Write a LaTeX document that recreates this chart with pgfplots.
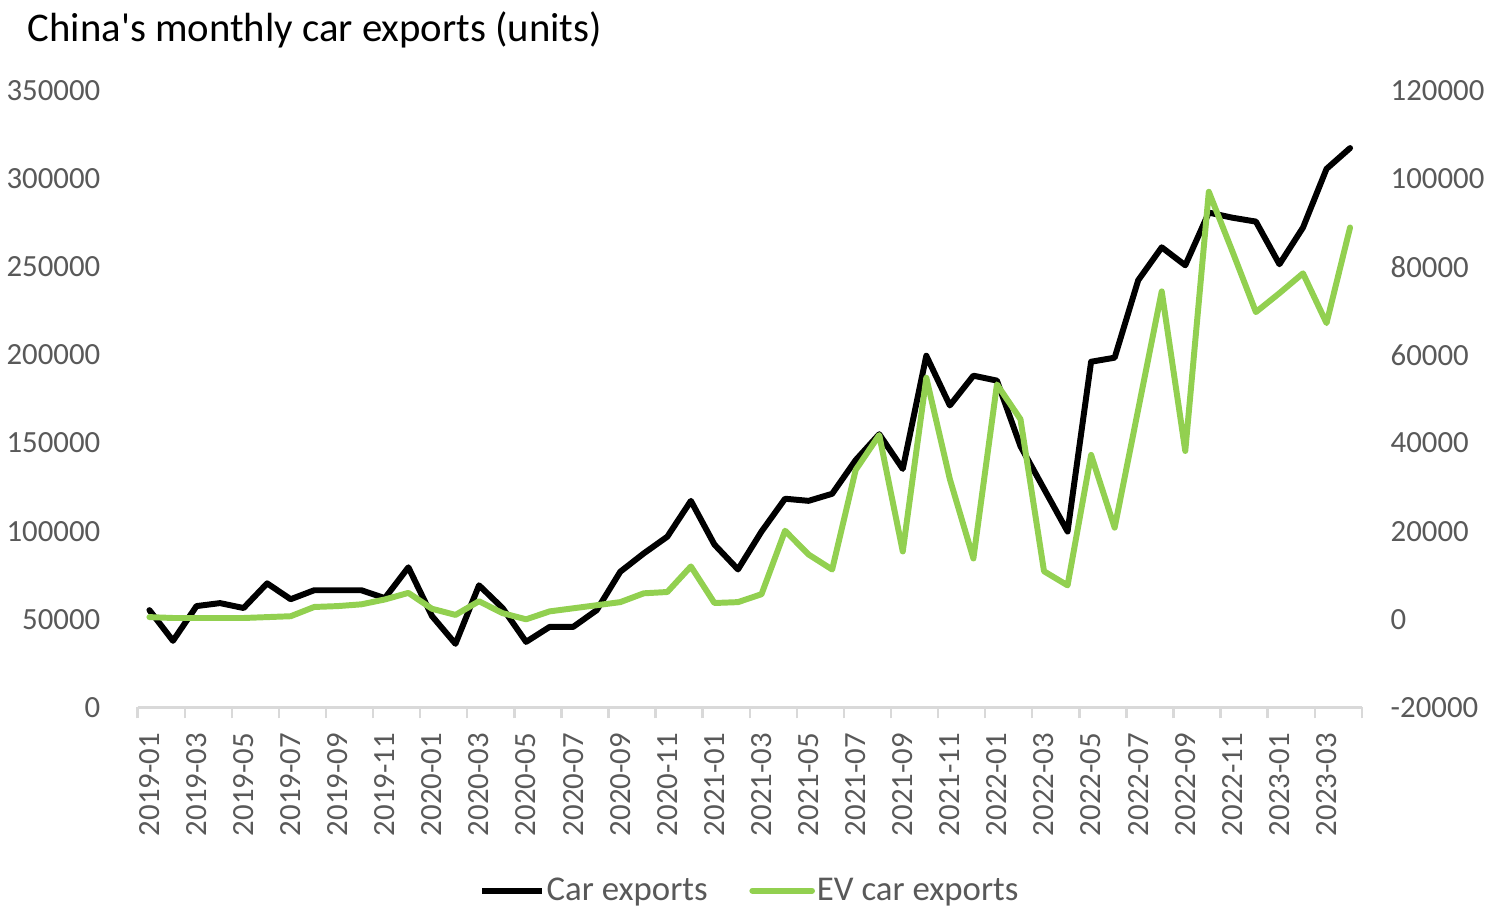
\documentclass[border=0pt]{standalone}
\usepackage{fontspec}
\setmainfont{Carlito}
\usepackage{pgfplots}
\pgfplotsset{compat=1.18}
\definecolor{evgreen}{HTML}{92D050}
\definecolor{ticktext}{HTML}{595959}
\definecolor{axisgray}{HTML}{D9D9D9}

\pgfplotstableread{
i car ev
0 55200 500
1 37800 300
2 57500 300
3 59200 300
4 56400 300
5 70400 500
6 61400 700
7 66500 2800
8 66500 3000
9 66500 3400
10 62000 4500
11 79500 6000
12 51900 2400
13 36100 1000
14 69300 4100
15 56400 1400
16 37200 0
17 45700 1800
18 45700 2500
19 55200 3200
20 77000 3900
21 87400 5900
22 96900 6200
23 117200 12000
24 92400 3700
25 78300 3900
26 99800 5700
27 118400 20100
28 117200 14700
29 121200 11300
30 140300 33900
31 155000 41800
32 135300 15400
33 199500 54800
34 171300 31800
35 188200 13800
36 185400 53300
37 148200 45400
38 124000 10900
39 99800 7700
40 196100 37300
41 198400 20800
42 242300 47600
43 261000 74400
44 250800 38200
45 280700 97000
46 277800 83500
47 275600 69700
48 251400 74000
49 272200 78500
50 305500 67200
51 317300 88900
}\exports

\pgfplotsset{
  common/.style={
    width=616pt, height=310.5pt, scale only axis,
    xmin=-0.5, xmax=51.5,
    scaled y ticks=false,
    tick label style={font=\fontsize{15.5}{17}\selectfont, text=ticktext},
    ytick style={draw=none},
    y axis line style={draw=none},
  }
}

\begin{document}
\begin{tikzpicture}
\begin{axis}[
  common, name=main,
  ymin=0, ymax=350000, ytick={0,50000,...,350000},
  yticklabels={0,50000,100000,150000,200000,250000,300000,350000},
  axis x line*=bottom, axis y line*=left,
  x axis line style={-, draw=axisgray, line width=1.2pt},
  xtick={0,2,...,50},
  xticklabels={2019-01,2019-03,2019-05,2019-07,2019-09,2019-11,
    2020-01,2020-03,2020-05,2020-07,2020-09,2020-11,
    2021-01,2021-03,2021-05,2021-07,2021-09,2021-11,
    2022-01,2022-03,2022-05,2022-07,2022-09,2022-11,
    2023-01,2023-03},
  x tick label style={rotate=90, anchor=east},
  xticklabel shift=5pt,
  yticklabel shift=11pt,
  major x tick style={draw=none},
  minor xtick={-0.5,1.5,...,51.5},
  minor x tick style={draw=axisgray, line width=1.2pt},
  tick align=outside,
  minor tick length=5.5pt,
]
\addplot[black, line width=3pt, line join=round, line cap=round] table[x=i, y=car] {\exports};
\end{axis}
\begin{axis}[
  common,
  ymin=-20000, ymax=120000, ytick={-20000,0,...,120000},
  yticklabels={-20000,0,20000,40000,60000,80000,100000,120000},
  axis x line=none, axis y line*=right,
  yticklabel shift=11pt,
  y tick label style={anchor=west},
  legend style={at={(0.5,-0.297)}, anchor=center, draw=none,
    legend columns=-1, font=\fontsize{17.5}{19}\selectfont, text=ticktext,
    /tikz/every even column/.append style={column sep=20pt},
    nodes={inner sep=1pt}},
  legend image code/.code={\draw[#1] (0pt,0pt) -- (30pt,0pt);},
]
\addlegendimage{black, line width=3pt}
\addlegendentry{Car exports}
\addplot[evgreen, line width=3pt, line join=round, line cap=round] table[x=i, y=ev] {\exports};
\addlegendentry{EV car exports}
\end{axis}
\node[anchor=base west, font=\fontsize{20.5}{23}\selectfont, inner sep=0pt] at ([shift={(-55.5pt,24.5pt)}]main.north west) {China\textquotesingle s monthly car exports (units)};
\path ([shift={(-66.5pt,-97.5pt)}]main.south west) rectangle ([shift={(63pt,45.5pt)}]main.north east);
\end{tikzpicture}
\end{document}
